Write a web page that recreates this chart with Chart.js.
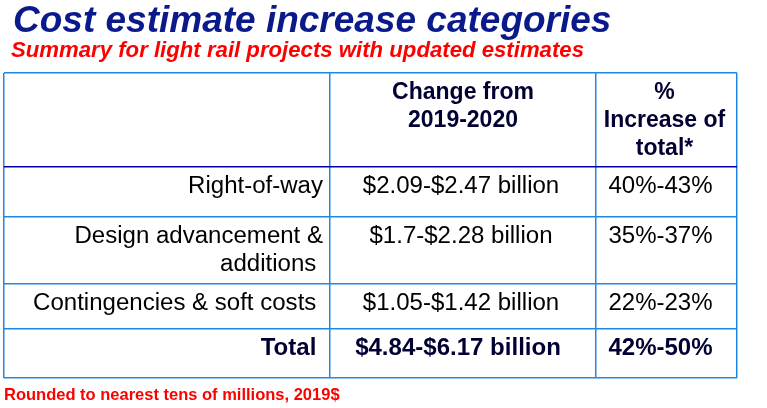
<!DOCTYPE html>
<html>
<head>
<meta charset="utf-8">
<script src="https://cdn.jsdelivr.net/npm/chart.js@4"></script>
<style>
  html, body { margin: 0; padding: 0; background: #fff; }
  canvas { display: block; }
</style>
</head>
<body>
<canvas id="costChart" width="767" height="408"></canvas>
<script>
// Table content
const headerChange = ['Change from', '2019-2020'];
const headerPct = ['%', 'Increase of', 'total*'];
const categories = [['Right-of-way'], ['Design advancement &', 'additions '], ['Contingencies & soft costs ']];
const changeRanges = ['$2.09-$2.47 billion', '$1.7-$2.28 billion', '$1.05-$1.42 billion'];
const pctRanges = ['40%-43%', '35%-37%', '22%-23%'];
const totalLabel = 'Total ';
const totalChange = '$4.84-$6.17 billion';
const totalPct = '42%-50%';

const titleText = 'Cost estimate increase categories';
const subtitleText = 'Summary for light rail projects with updated estimates';
const footnoteText = 'Rounded to nearest tens of millions, 2019$';

// Layout (table units, 1 unit = 1px)
const colEdges = [0, 326, 592, 733];
const rowEdges = [0, 94, 144, 211, 256, 305];

const FONT = "'Liberation Sans', Arial, sans-serif";
const LIGHT_BLUE = '#1e88e5';
const DARK_BLUE = '#0000a8';
const STRETCH = 1.045; // body text in the source is a bit wide

function byId(id) {
  return document.getElementById(id);
}

function setTicks(edges) {
  return scale => { scale.ticks = edges.map(v => ({ value: v })); };
}

function put(ctx, s, x, y, align, sx = 1) {
  ctx.save();
  ctx.translate(x, y);
  ctx.scale(sx, 1);
  ctx.textAlign = align;
  ctx.fillText(s, 0, 0);
  ctx.restore();
}

// draws titles, footnote and cell texts
const tableText = {
  id: 'tableText',
  afterDraw(chart) {
    const { ctx, scales: { x, y } } = chart;
    ctx.save();
    ctx.textBaseline = 'alphabetic';

    // titles
    ctx.fillStyle = '#0a1a8a';
    ctx.font = `italic bold 37px ${FONT}`;
    put(ctx, titleText, 13, 32, 'left');
    ctx.fillStyle = '#ff0000';
    ctx.font = `italic bold 22px ${FONT}`;
    put(ctx, subtitleText, 11, 57, 'left', 1.008);
    ctx.font = `bold 16.5px ${FONT}`;
    put(ctx, footnoteText, 4, 400, 'left');

    const colL = i => x.getPixelForValue(colEdges[i]);
    const rowT = i => y.getPixelForValue(rowEdges[i]);
    const midCol = i => (colL(i) + colL(i + 1)) / 2;
    const lineH = 28, base = 26;

    // header
    ctx.fillStyle = '#000033';
    ctx.font = `bold 23px ${FONT}`;
    headerChange.forEach((s, k) => put(ctx, s, midCol(1), rowT(0) + base + k * lineH, 'center'));
    headerPct.forEach((s, k) => put(ctx, s, midCol(2) - 2, rowT(0) + base + k * lineH, 'center'));

    // body rows
    ctx.fillStyle = '#000';
    ctx.font = `23px ${FONT}`;
    categories.forEach((lines, r) => {
      const top = rowT(r + 1);
      lines.forEach((s, k) => put(ctx, s, colL(1) - 7, top + base + k * lineH, 'right', STRETCH));
      put(ctx, changeRanges[r], midCol(1) - 2, top + base, 'center', STRETCH);
      put(ctx, pctRanges[r], midCol(2) - 6, top + base, 'center', STRETCH);
    });

    // total row
    const tTop = rowT(4);
    ctx.fillStyle = '#000033';
    ctx.font = `bold 23px ${FONT}`;
    put(ctx, totalLabel, colL(1) - 7, tTop + base, 'right', STRETCH);
    put(ctx, totalChange, midCol(1) - 5, tTop + base, 'center', STRETCH);
    put(ctx, totalPct, midCol(2) - 6, tTop + base, 'center', STRETCH);

    ctx.restore();
  }
};

new Chart(byId('costChart').getContext('2d'), {
  type: 'scatter',
  data: { datasets: [{ data: [] }] },
  options: {
    responsive: false,
    animation: false,
    layout: { padding: { left: 4, top: 73, right: 30, bottom: 30 } },
    plugins: {
      legend: { display: false },
      tooltip: { enabled: false }
    },
    scales: {
      x: {
        type: 'linear',
        min: colEdges[0],
        max: colEdges[colEdges.length - 1],
        afterBuildTicks: setTicks(colEdges),
        ticks: { display: false },
        border: { display: false },
        grid: { drawTicks: false, color: LIGHT_BLUE, lineWidth: 1.5 }
      },
      y: {
        type: 'linear',
        reverse: true,
        min: rowEdges[0],
        max: rowEdges[rowEdges.length - 1],
        afterBuildTicks: setTicks(rowEdges),
        ticks: { display: false },
        border: { display: false },
        grid: {
          drawTicks: false,
          color: c => c.index === 1 ? DARK_BLUE : LIGHT_BLUE,
          lineWidth: 1.5
        }
      }
    }
  },
  plugins: [tableText]
});
</script>
</body>
</html>
